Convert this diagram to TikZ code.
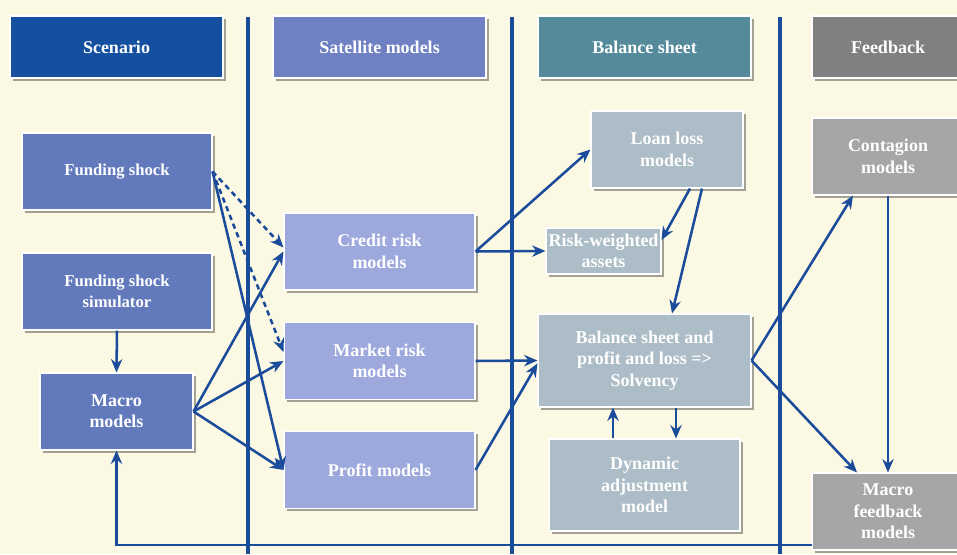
\documentclass[tikz,border=0pt]{standalone}
\usepackage{fontspec}
\setmainfont{Liberation Serif}
\usepackage{tikz}
\usepackage{xcolor}
\usetikzlibrary{arrows.meta, positioning, calc, shadows}
\definecolor{cream}{HTML}{FBF8E3}
\definecolor{navyline}{HTML}{1B4B9B}
\definecolor{scenhead}{HTML}{154F9F}
\definecolor{sathead}{HTML}{6F81C3}
\definecolor{bshead}{HTML}{548A9A}
\definecolor{fbhead}{HTML}{808080}
\definecolor{scenbox}{HTML}{6279BC}
\definecolor{satbox}{HTML}{9DA9DC}
\definecolor{bsbox}{HTML}{ACBDC7}
\definecolor{fbbox}{HTML}{A6A6A6}
\tikzstyle{box} = [rectangle, draw=white, line width=0.8pt, text=white, align=center,
                   inner sep=0pt, font=\bfseries\fontsize{13.5}{16}\selectfont,
                   drop shadow={shadow xshift=2pt, shadow yshift=-2pt, fill=black, opacity=0.35}]
\tikzstyle{head} = [box, minimum width=159.75pt, minimum height=46.5pt]
\tikzstyle{model} = [box, minimum width=143.25pt, minimum height=57.75pt]
\tikzstyle{small} = [font=\bfseries\fontsize{12.5}{16}\selectfont]
\tikzstyle{arrow} = [-{Stealth[length=10pt, width=8.5pt]}, line width=1.9pt, draw=navyline]
\tikzstyle{divider} = [line width=2.4pt, draw=navyline]

\begin{document}
\begin{tikzpicture}[x=0.75pt, y=-0.75pt]
\clip (0,0) rectangle (957,554);
\fill[cream] (0,0) rectangle (957,554);

\draw[divider] (248,17) -- (248,554);
\draw[divider] (512,17) -- (512,554);
\draw[divider] (780,17) -- (780,554);

\node[head, fill=scenhead] (hscen) at (116.5,47) {Scenario};
\node[head, fill=sathead] (hsat) at (379.5,47) {Satellite models};
\node[head, fill=bshead] (hbs) at (644.5,47) {Balance sheet};
\node[head, fill=fbhead, minimum width=114pt] (hfb) at (888,47) {Feedback};

\node[model, small, fill=scenbox, minimum width=142.5pt] (fund) at (117,171.5) {Funding shock};
\node[model, small, fill=scenbox, minimum width=142.5pt] (sim) at (117,291.5) {Funding shock\\simulator};
\node[model, fill=scenbox, minimum width=114.75pt] (macro) at (116.5,411.5) {Macro\\models};

\node[model, fill=satbox] (credit) at (379.5,251.5) {Credit risk\\models};
\node[model, fill=satbox] (market) at (379.5,361) {Market risk\\models};
\node[model, fill=satbox] (profit) at (379.5,470) {Profit models};

\node[model, fill=bsbox, minimum width=114pt] (loan) at (667,149.5) {Loan loss\\models};
\node[model, fill=bsbox, minimum width=86.25pt, minimum height=34.5pt] (rwa) at (603.5,251) {Risk-weighted\\assets};
\node[model, fill=bsbox, minimum width=159.75pt, minimum height=69.75pt] (bs) at (644.5,360.5) {Balance sheet and\\profit and loss =>\\Solvency};
\node[model, fill=bsbox, minimum height=69pt] (dyn) at (644.5,485) {Dynamic\\adjustment\\model};

\node[model, fill=fbbox, minimum width=114pt] (cont) at (888,156.5) {Contagion\\models};
\node[model, fill=fbbox, minimum width=114pt] (mfb) at (888,511.5) {Macro\\feedback\\models};
\coordinate (fbk) at (812,545);

\draw[arrow, dash pattern=on 4pt off 3pt] (fund.east) -- ($(credit.west)+(0,-4)$);
\draw[arrow, dash pattern=on 4pt off 3pt] (fund.east) -- ($(market.west)+(0,-9)$);
\draw[arrow] (fund.east) -- (profit.west);
\draw[arrow] (sim.south) -- (macro.north);
\draw[arrow] (macro.east) -- (credit.west);
\draw[arrow] (macro.east) -- (market.west);
\draw[arrow] (macro.east) -- (profit.west);

\draw[arrow] (credit.east) -- (loan.west);
\draw[arrow] (credit.east) -- (rwa.west);
\draw[arrow] (market.east) -- (bs.west);
\draw[arrow] (profit.east) -- ($(bs.west)+(0,3)$);

\draw[arrow] ($(loan.south)+(23,0)$) -- ($(rwa.east)+(0,-11)$);
\draw[arrow] ($(loan.south)+(35,0)$) -- ($(bs.north)+(27.5,0)$);
\draw[arrow] ($(bs.south)+(31.5,0)$) -- ($(dyn.north)+(31.5,0)$);
\draw[arrow] ($(dyn.north)+(-31.5,0)$) -- ($(bs.south)+(-31.5,0)$);

\draw[arrow] (bs.east) -- ($(cont.south)+(-35,0)$);
\draw[arrow] (bs.east) -- ($(mfb.north)+(-31,0)$);
\draw[arrow] (cont.south) -- (mfb.north);
\draw[arrow] (fbk) -| (macro.south);
\end{tikzpicture}
\end{document}
